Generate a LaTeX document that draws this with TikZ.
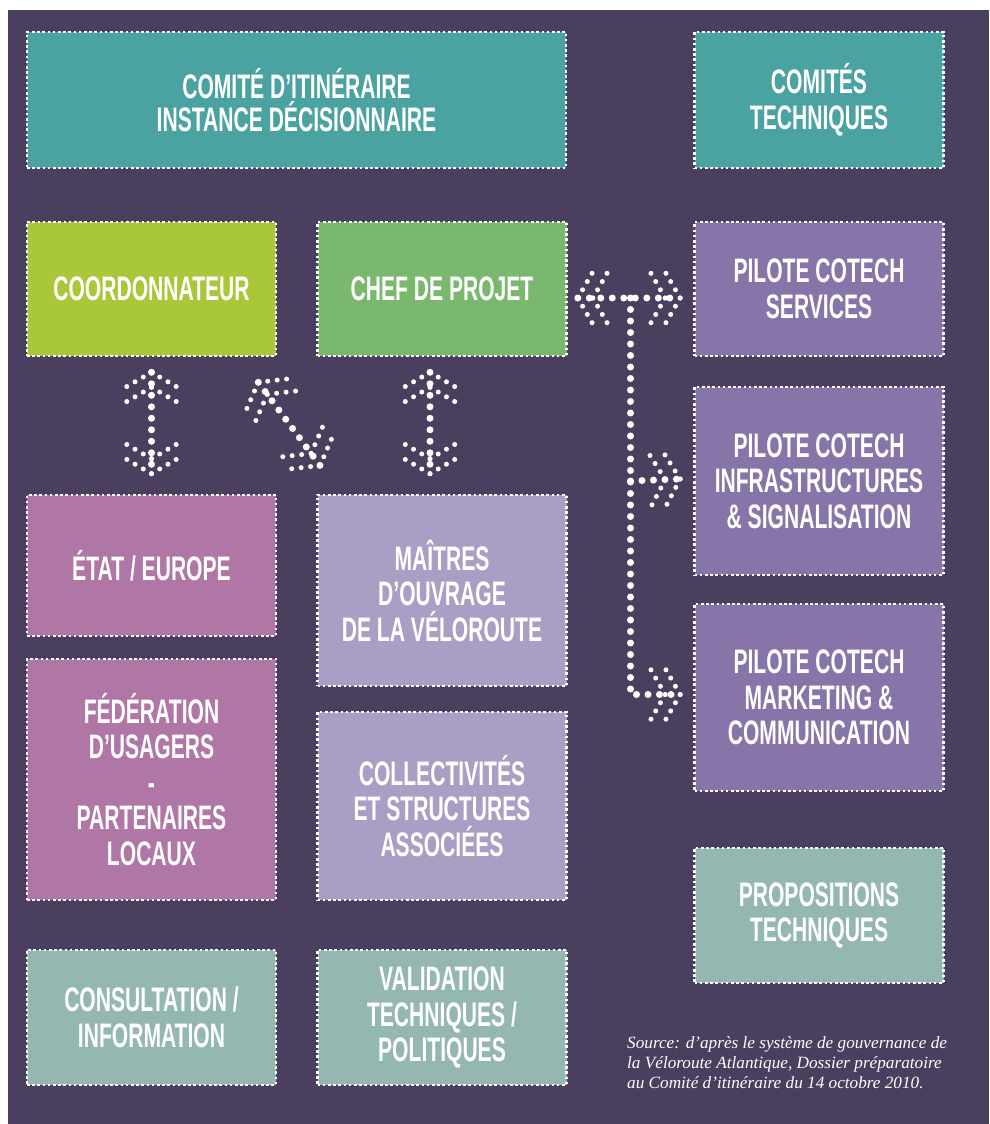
\documentclass[tikz,border=0pt]{standalone}
\usepackage{fontspec}
\setmainfont{Liberation Sans}
\newfontfamily\boxfont{Liberation Sans}[FakeStretch=0.62]
\newfontfamily\srcfont{Liberation Serif}
\definecolor{vbg}{RGB}{74,63,94}
\definecolor{vteal}{RGB}{74,163,160}
\definecolor{vlime}{RGB}{168,200,58}
\definecolor{vgreen}{RGB}{122,184,110}
\definecolor{vviolet}{RGB}{135,116,168}
\definecolor{vmauve}{RGB}{176,119,166}
\definecolor{vlilac}{RGB}{170,158,196}
\definecolor{vsage}{RGB}{148,183,177}
\usetikzlibrary{positioning,calc,decorations.markings}

% double dotted chevron, pointing along +x (#1=1) or -x (#1=-1)
\newcommand{\chevdraw}[1]{%
  \draw[dotchev] (0,0) -- (#1*-15,26); \draw[dotchev] (0,0) -- (#1*-15,-26);
  \draw[dotchev] (#1*-15,0) -- (#1*-30,26); \draw[dotchev] (#1*-15,0) -- (#1*-30,-26);}

\tikzset{
  box/.style={draw=white, line width=2.6pt, dash pattern=on 2.6pt off 2.6pt, inner sep=0pt,
    minimum width=249pt, minimum height=134pt, align=center, text=white,
    font=\boxfont\bfseries\fontsize{34}{35.5}\selectfont},
  dotline/.style={draw=white, line width=7pt, line cap=round, dash pattern=on 0pt off 11.5pt},
  dotchev/.style={draw=white, line width=5pt, line cap=round, dash pattern=on 0pt off 9.5pt},
  headend/.style={postaction={decorate}, decoration={markings,
    mark=at position 1 with {\chevdraw{1}}}},
  headboth/.style={postaction={decorate}, decoration={markings,
    mark=at position 0 with {\chevdraw{-1}},
    mark=at position 1 with {\chevdraw{1}}}},
}

\begin{document}
\begin{tikzpicture}[x=1pt, y=-1pt]
  \fill[white] (0,0) rectangle (989,1124);
  \fill[vbg] (8,10) rectangle (989,1124);
  \useasboundingbox (0,0) rectangle (989,1124);
  % top row
  \node[box, fill=vteal, minimum width=539pt, minimum height=136pt] (comite) at (296.5,100) {COMITÉ D’ITINÉRAIRE\\[-2pt]INSTANCE DÉCISIONNAIRE};
  \node[box, fill=vteal, minimum height=136pt] (comtech) at (819,100) {COMITÉS\\TECHNIQUES};
  % project team
  \node[box, fill=vlime] (coord) at (151.5,289) {COORDONNATEUR};
  \node[box, fill=vgreen] (chef) at (442,289) {CHEF DE PROJET};
  % pilots
  \node[box, fill=vviolet] (svc) at (819,289) {PILOTE COTECH\\SERVICES};
  \node[box, fill=vviolet, minimum height=188pt] (infra) at (819,481) {PILOTE COTECH\\INFRASTRUCTURES\\\& SIGNALISATION};
  \node[box, fill=vviolet, minimum height=187pt] (mkt) at (819,697.5) {PILOTE COTECH\\MARKETING \&\\COMMUNICATION};
  \node[box, fill=vsage, minimum height=135pt] (propo) at (819,915.5) {PROPOSITIONS\\TECHNIQUES};
  % partners
  \node[box, fill=vmauve, minimum height=141pt] (etat) at (151.5,565.5) {ÉTAT / EUROPE};
  \node[box, fill=vlilac, minimum height=191pt] (maitres) at (442,590.5) {MAÎTRES\\D’OUVRAGE\\DE LA VÉLOROUTE};
  \node[box, fill=vmauve, minimum height=241pt] (fede) at (151.5,779.5) {FÉDÉRATION\\D’USAGERS\\-\\PARTENAIRES\\LOCAUX};
  \node[box, fill=vlilac, minimum height=188pt] (collec) at (442,806) {COLLECTIVITÉS\\ET STRUCTURES\\ASSOCIÉES};
  \node[box, fill=vsage, minimum height=135pt] (consult) at (151.5,1017.5) {CONSULTATION /\\INFORMATION};
  \node[box, fill=vsage, minimum height=135pt] (valid) at (442,1017.5) {VALIDATION\\TECHNIQUES /\\POLITIQUES};
  % dotted arrows
  \draw[dotline, headboth] ($(coord.south)+(0,15)$) -- ($(etat.north)+(0,-20)$);
  \draw[dotline, headboth] ($(coord.south east)+(-19,25)$) -- ($(maitres.north west)+(4,-28)$);
  \draw[dotline, headboth] ($(chef.south)+(-12,15)$) -- ($(maitres.north)+(-12,-20)$);
  \draw[dotline, headboth] ($(chef.east)+(10,9)$) -- ($(svc.west)+(-13,9)$);
  \coordinate (jt) at ($(chef.east)!0.5!(svc.west)+(0,9)$);
  \draw[dotline, headend] (jt |- infra.west) -- ($(infra.west)+(-13,-2)$);
  \draw[dotline, headend] (jt) |- ($(mkt.west)+(-13,-3)$);
  % source
  \node[anchor=north west, align=left, inner sep=0pt, text=white,
    font=\srcfont\itshape\fontsize{17.2}{20}\selectfont] (src) at (627,1036)
    {Source: d’après le système de gouvernance de\\la Véloroute Atlantique, Dossier préparatoire\\au Comité d’itinéraire du 14 octobre 2010.};
\end{tikzpicture}
\end{document}
